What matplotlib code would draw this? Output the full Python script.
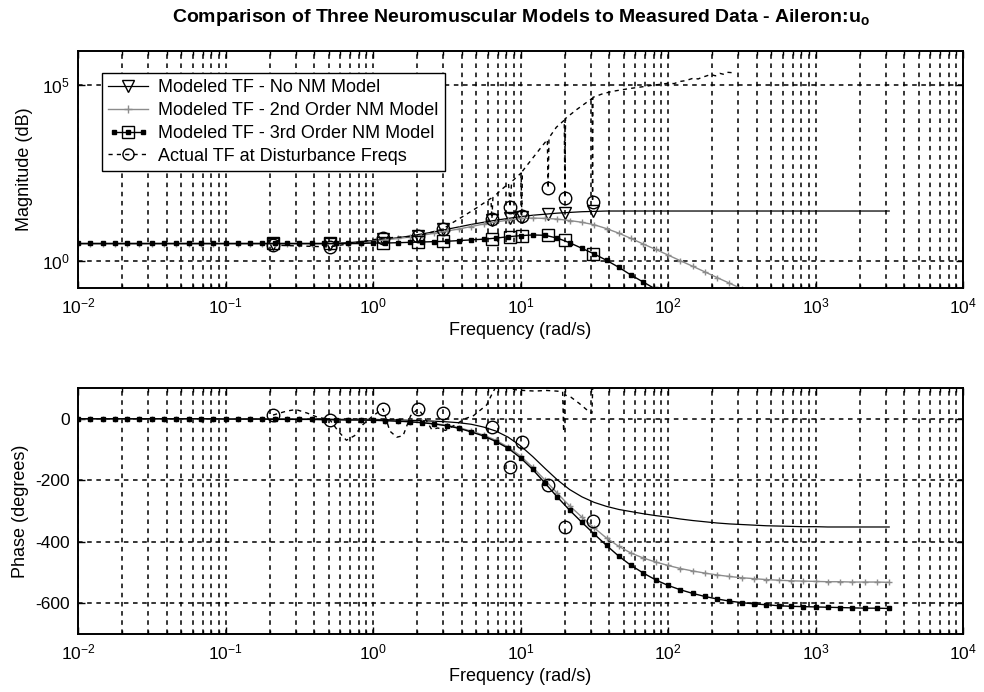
import numpy as np
import matplotlib
matplotlib.use('Agg')
import matplotlib.pyplot as plt
from matplotlib.lines import Line2D
from matplotlib.legend_handler import HandlerLine2D, HandlerTuple
from matplotlib.ticker import LogLocator, NullFormatter, NullLocator, FixedLocator

plt.rcParams['font.family'] = ['Liberation Sans', 'DejaVu Sans']
plt.rcParams['mathtext.fontset'] = 'custom'
plt.rcParams['mathtext.rm'] = 'Liberation Sans'
plt.rcParams['mathtext.it'] = 'Liberation Sans:italic'
plt.rcParams['mathtext.bf'] = 'Liberation Sans:bold'
plt.rcParams['axes.unicode_minus'] = False

# ---------------- data ----------------
# model frequency grid (rad/s)
freq = [0.01, 0.0121, 0.0147, 0.0178, 0.0215, 0.0261, 0.0316, 0.0383, 0.0464, 0.0562, 0.0681, 0.0825,
        0.1, 0.121, 0.147, 0.178, 0.215, 0.261, 0.316, 0.383, 0.464, 0.562, 0.681, 0.825,
        1.0, 1.21, 1.47, 1.78, 2.15, 2.61, 3.16, 3.83, 4.64, 5.62, 6.81, 8.25,
        10.0, 12.1, 14.7, 17.8, 21.5, 26.1, 31.6, 38.3, 46.4, 56.2, 68.1, 82.5,
        100.0, 121.0, 147.0, 178.0, 215.0, 261.0, 316.0, 383.0, 464.0, 562.0, 681.0, 825.0,
        1000.0, 1210.0, 1470.0, 1780.0, 2150.0, 2610.0, 3160.0]

# log10 magnitudes
mag_no_nm_log = [0.49] * 21 + [0.50, 0.52, 0.55, 0.58, 0.62, 0.66, 0.71, 0.77, 0.83, 0.90, 0.97,
                               1.04, 1.10, 1.16, 1.21, 1.26, 1.30, 1.33, 1.36, 1.38, 1.40, 1.41] + [1.42] * 24
mag_2nd_log = [0.49] * 24 + [0.56, 0.60, 0.64, 0.68, 0.73, 0.79, 0.85, 0.91, 0.98, 1.05, 1.11, 1.16,
                             1.21, 1.22, 1.21, 1.19, 1.15, 1.10, 1.03, 0.92, 0.79, 0.64, 0.48, 0.33,
                             0.17, 0.01, -0.15, -0.31, -0.47, -0.63, -0.79, -0.95, -1.11, -1.27, -1.43,
                             -1.59, -1.75, -1.91, -2.07, -2.23, -2.39, -2.55, -2.71]
mag_3rd_log = [0.50] * 24 + [0.51, 0.51, 0.52, 0.53, 0.54, 0.55, 0.56, 0.58, 0.60, 0.62, 0.65, 0.69,
                             0.72, 0.74, 0.73, 0.65, 0.52, 0.36, 0.20, 0.02, -0.18, -0.40, -0.60, -0.80,
                             -1.03, -1.28, -1.53, -1.78, -2.03, -2.28, -2.53, -2.78, -3.03, -3.28, -3.53,
                             -3.78, -4.03, -4.28, -4.53, -4.78, -5.03, -5.28, -5.53]

# phases (degrees)
ph_no_nm = [0] * 12 + [-1] * 9 + [-2, -2, -2, -2, -3, -4, -5, -6, -8, -10, -13, -18, -27, -40, -60,
                                  -88, -123, -162, -199, -230, -254, -272, -285, -295, -302, -309, -315,
                                  -320, -326, -331, -335, -339, -342, -344, -346, -348, -349, -350, -351,
                                  -351, -352, -352, -352, -352, -352, -352]
ph_2nd = [0] * 12 + [-1] * 6 + [-2, -2, -3, -3, -4, -4, -5, -6, -7, -9, -12, -16, -21, -29, -40, -53,
                                -70, -92, -121, -158, -200, -243, -283, -320, -355, -388, -415, -437,
                                -453, -466, -477, -487, -495, -502, -508, -513, -517, -520, -523, -525,
                                -527, -528, -529, -530, -530, -531, -531, -531, -532]
ph_3rd = [0] * 12 + [-1, -1, -1, -1, -2, -2, -2, -2, -3, -3, -4, -4, -5, -6, -8, -10, -13, -17, -23,
                     -31, -43, -56, -74, -96, -127, -165, -210, -255, -297, -337, -375, -412, -447,
                     -477, -502, -524, -542, -556, -568, -578, -586, -593, -598, -602, -605, -608,
                     -610, -611, -612, -613, -614, -615, -616, -616, -617]

# disturbance frequencies and values there
dist_freq = [0.21, 0.51, 1.17, 2.02, 2.98, 6.4, 8.5, 10.2, 15.4, 20.0, 30.8]
act_mag_log = [0.45, 0.40, 0.65, 0.71, 0.91, 1.20, 1.53, 1.27, 2.07, 1.80, 1.68]
act_phase = [12, -3, 32, 32, 18, -28, -158, -77, -214, -353, -333]
no_nm_dist_log = [0.49, 0.49, 0.63, 0.72, 0.92, 1.17, 1.21, 1.25, 1.33, 1.37, 1.42]
third_dist_log = [0.50, 0.50, 0.51, 0.54, 0.56, 0.63, 0.69, 0.72, 0.73, 0.60, 0.20]

# measured transfer function, dense (dashed) trace
meas_freq = [0.21, 0.51, 1.17, 2.02, 2.98, 3.5, 4.2, 5.0, 5.8, 6.3, 6.4, 6.5, 7.3, 8.3, 8.5,
             8.7, 9.5, 10.1, 10.2, 10.3, 12.5, 15.2, 15.4, 15.6, 17.5, 19.8, 20.0, 20.2, 24, 30.6,
             30.8, 31.0, 36, 42, 48, 55, 62, 70, 80, 90, 100, 110, 120, 130, 140,
             150, 160, 170, 180, 195, 210, 225, 240, 255, 272]
meas_mag_log = [0.45, 0.40, 0.65, 0.71, 0.91, 1.1, 1.3, 1.5, 1.68, 1.78, 1.20, 1.8, 2.0, 2.2, 1.53,
                2.25, 2.4, 2.5, 1.27, 2.55, 3.0, 3.45, 2.07, 3.5, 3.8, 4.0, 1.80, 4.05, 4.3, 4.62,
                1.68, 4.65, 4.75, 4.82, 4.86, 4.9, 4.93, 4.96, 5.0, 5.02, 5.05, 5.04, 5.1, 5.12, 5.16,
                5.2, 5.17, 5.22, 5.25, 5.3, 5.26, 5.33, 5.3, 5.36, 5.35]
meas_ph_freq = [0.21, 0.26, 0.30, 0.36, 0.42, 0.51, 0.58, 0.66, 0.75, 0.85, 1.0, 1.17, 1.3, 1.45,
                1.6, 1.8, 2.02, 2.2, 2.5, 2.75, 3.1, 3.6, 4.2, 4.8, 5.4, 5.9, 6.4, 7.0, 8.0, 9.0,
                10.5, 12.5, 15.0, 17.5, 19.3, 19.6, 19.9, 22.0, 25.0, 28.0, 30.5, 31.0]
meas_phase = [12, 25, 30, 18, 5, -3, -40, -70, -55, -20, 10, 32, -40, -60, -55, 10, 32, 10, -35,
              -30, -38, -20, 0, 10, 30, 45, 80, 115, 100, 95, 92, 90, 92, 90, 88, -42, 78, 70, 50,
              30, 18, 130]

x_ticks = [1e-2, 1e-1, 1e0, 1e1, 1e2, 1e3, 1e4]
mag_ticks = [1, 1e5]
phase_ticks = [-600, -400, -200, 0]

labels = ['Modeled TF - No NM Model', 'Modeled TF - 2nd Order NM Model',
          'Modeled TF - 3rd Order NM Model', 'Actual TF at Disturbance Freqs']
title = 'Comparison of Three Neuromuscular Models to Measured Data - Aileron:u$_\\mathbf{o}$'

GRAY = '#8c8c8c'
DASH = (0, (3, 3))
FS = 13

# ---------------- figure ----------------
W, H = 984, 692
fig = plt.figure(figsize=(W / 100, H / 100), dpi=100)
L, R = 78 / W, 963 / W
ax1 = fig.add_axes([L, 1 - 288 / H, R - L, 237 / H])
ax2 = fig.add_axes([L, 1 - 634 / H, R - L, 246 / H])


def style(ax):
    ax.set_xscale('log')
    ax.set_xlim(1e-2, 1e4)
    ax.xaxis.set_major_locator(FixedLocator(x_ticks))
    ax.xaxis.set_minor_locator(LogLocator(base=10, subs=np.arange(2, 10), numticks=100))
    ax.xaxis.set_minor_formatter(NullFormatter())
    ax.tick_params(which='both', direction='in', top=True, right=True, labelsize=12.5, width=1,
                   colors='k')
    ax.tick_params(which='major', length=5, pad=6)
    ax.tick_params(which='minor', length=3)
    ax.grid(True, which='major', axis='both', color='k', ls=DASH, lw=1.1)
    ax.grid(True, which='minor', axis='x', color='k', ls=DASH, lw=1.1)
    for s in ax.spines.values():
        s.set_linewidth(1.4)
    ax.set_axisbelow(True)


style(ax1)
style(ax2)

a = np.array
# magnitude panel
ax1.set_yscale('log')
ax1.set_ylim(10 ** -0.767, 10 ** 5.966)
ax1.yaxis.set_major_locator(FixedLocator(mag_ticks))
ax1.yaxis.set_minor_locator(NullLocator())
ax1.plot(freq, 10 ** a(mag_no_nm_log), color='k', lw=0.9)
ax1.plot(dist_freq, 10 ** a(no_nm_dist_log), ls='none', marker='v', ms=8, mfc='none', mec='k', mew=1)
ax1.plot(freq, 10 ** a(mag_2nd_log), color=GRAY, lw=1.0, marker='+', ms=5, mew=1)
ax1.plot(freq, 10 ** a(mag_3rd_log), color='k', lw=1.0, marker='s', ms=3.5, mfc='k', mec='k')
ax1.plot(dist_freq, 10 ** a(third_dist_log), ls='none', marker='s', ms=9, mfc='none', mec='k', mew=1)
ax1.plot(meas_freq, 10 ** a(meas_mag_log), color='k', ls=DASH, lw=1.0)
ax1.plot(dist_freq, 10 ** a(act_mag_log), ls='none', marker='o', ms=9, mfc='none', mec='k', mew=1)
ax1.set_xlabel('Frequency (rad/s)', fontsize=FS, labelpad=4)
ax1.set_ylabel('Magnitude (dB)', fontsize=FS, labelpad=6)

# phase panel
ax2.set_ylim(-700, 100)
ax2.yaxis.set_major_locator(FixedLocator(phase_ticks))
ax2.plot(freq, ph_no_nm, color='k', lw=0.9)
ax2.plot(freq, ph_2nd, color=GRAY, lw=1.0, marker='+', ms=5, mew=1)
ax2.plot(freq, ph_3rd, color='k', lw=1.0, marker='s', ms=3.5, mfc='k', mec='k')
ax2.plot(meas_ph_freq, meas_phase, color='k', ls=DASH, lw=1.0)
ax2.plot(dist_freq, act_phase, ls='none', marker='o', ms=9, mfc='none', mec='k', mew=1)
ax2.set_xlabel('Frequency (rad/s)', fontsize=FS, labelpad=4)
ax2.set_ylabel('Phase (degrees)', fontsize=FS, labelpad=4)

# legend
h1 = Line2D([], [], color='k', lw=0.9, marker='v', ms=8, mfc='none', mec='k')
h2 = Line2D([], [], color=GRAY, lw=1.0, marker='+', ms=6, mew=1)
h3a = Line2D([], [], color='k', lw=1.0, marker='s', ms=3.5, mfc='k')
h3b = Line2D([], [], ls='none', marker='s', ms=9, mfc='none', mec='k')
h4 = Line2D([], [], color='k', ls=DASH, lw=1.0, marker='o', ms=8, mfc='none', mec='k')
leg = ax1.legend([h1, h2, (h3a, h3b), h4], labels,
                 handler_map={h3a: HandlerLine2D(numpoints=3), tuple: HandlerTuple(ndivide=1)},
                 loc='upper left', bbox_to_anchor=(0.027, 0.907), fontsize=FS, frameon=True,
                 fancybox=False, edgecolor='k', framealpha=1, borderaxespad=0,
                 handlelength=2.2, handletextpad=0.55, borderpad=0.35, labelspacing=0.32)
leg.get_frame().set_linewidth(1.0)

fig.text((L + R) / 2, 1 - 18 / H, title, ha='center', va='center', fontsize=14, fontweight='bold')

fig.savefig('out.png', dpi=100)
